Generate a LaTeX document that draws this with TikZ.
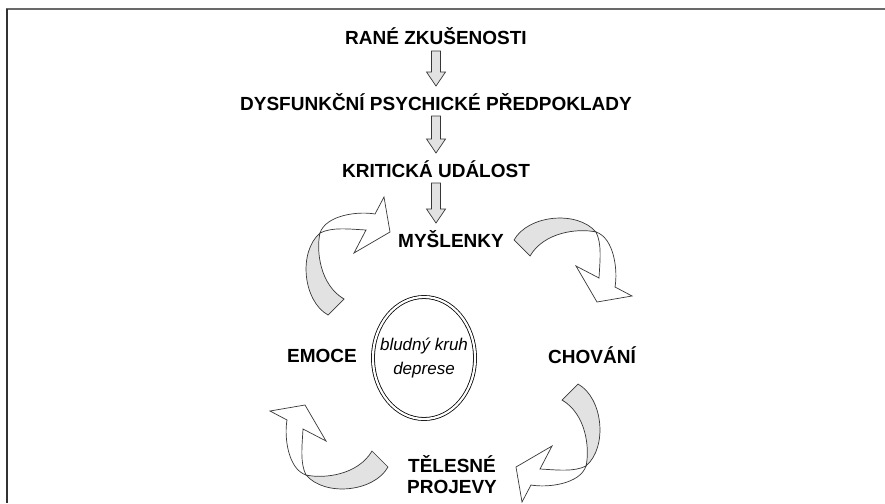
\documentclass[tikz,border=0pt]{standalone}
\usepackage{fontspec}
\setmainfont{Liberation Sans}
\usetikzlibrary{calc, shapes.geometric}
\definecolor{framegray}{RGB}{105,105,105}
\definecolor{framedark}{RGB}{50,50,50}
\definecolor{arrowfill}{RGB}{226,226,226}
\definecolor{arrowline}{RGB}{55,55,55}

\tikzset{
  stage/.style={font=\fontsize{19}{20}\selectfont\bfseries, inner sep=0pt, anchor=base},
  downarr/.style={draw=arrowline, fill=arrowfill, line width=0.7pt},
  twistback/.style={draw=arrowline, fill=arrowfill, line width=0.7pt},
  twistfront/.style={draw=arrowline, fill=white, line width=0.7pt},
}

% block arrow pointing down from one label to the next
\newcommand{\blockdown}[2]{%
  \draw[downarr] let \p1=($(#1.base)+(0,-6)$), \p2=($(#2.base)+(0,24)$) in
    (\x1-4.5pt,\y1) -- (\x1+4.5pt,\y1) -- (\x1+4.5pt,\y2+14pt) -- (\x1+9.5pt,\y2+14pt)
    -- (\x1,\y2) -- (\x1-9.5pt,\y2+14pt) -- (\x1-4.5pt,\y2+14pt) -- cycle;}

% twisted ribbon arrow, #1 = centre, #2 = rotation
\newcommand{\twistarrow}[2]{%
  \begin{scope}[shift={#1}, rotate=#2]
    % back side of the ribbon
    \draw[twistback] (-58,22) .. controls (-44,47) and (5,52) .. (24,30)
      .. controls (6,34) and (-28,30) .. (-42,6) -- cycle;
    % front side with the head
    \draw[twistfront] (24,30) .. controls (42,24) and (46,-8) .. (43,-25)
      -- (60,-34) -- (25,-40) -- (4,-4) -- (27,-16)
      .. controls (28,2) and (30,18) .. (24,30) -- cycle;
  \end{scope}}

\begin{document}
\begin{tikzpicture}[x=1pt, y=1pt]
    \useasboundingbox (0,0) rectangle (885,-503);

    % Frame
    \draw[framegray, line width=2pt] (6,-9) -- (885,-9);
    \draw[framedark, line width=2pt] (7,-9) -- (7,-503);

    % Chain of causes
    \node[stage] (rane) at (436,-45) {RANÉ ZKUŠENOSTI};
    \node[stage] (predpoklady) at (436,-110) {DYSFUNKČNÍ PSYCHICKÉ PŘEDPOKLADY};
    \node[stage] (udalost) at (436,-177) {KRITICKÁ UDÁLOST};
    \node[stage] (myslenky) at (451,-247) {MYŠLENKY};

    \blockdown{rane}{predpoklady}
    \blockdown{predpoklady}{udalost}
    \blockdown{udalost}{myslenky}

    % Vicious circle
    \node[draw, ellipse, double, double distance=2.2pt, line width=0.8pt,
          minimum width=102pt, minimum height=122pt] (kruh) at (424,-358) {};
    \node[font=\itshape\fontsize{17}{24}\selectfont, align=center, inner sep=0pt]
          (kruhtext) at (kruh.center) {bludný kruh\\deprese};

    \node[stage] (emoce) at (322,-362) {EMOCE};
    \node[stage] (chovani) at (592,-363) {CHOVÁNÍ};
    \node[stage, anchor=north, align=center, font=\fontsize{19}{21}\selectfont\bfseries]
          (projevy) at (452,-455) {TĚLESNÉ\\PROJEVY};

    % Curved arrows round the circle
    \twistarrow{(350,-257)}{90}
    \twistarrow{(572,-262)}{0}
    \twistarrow{(556,-442)}{-90}
    \twistarrow{(330,-445)}{180}
\end{tikzpicture}
\end{document}
